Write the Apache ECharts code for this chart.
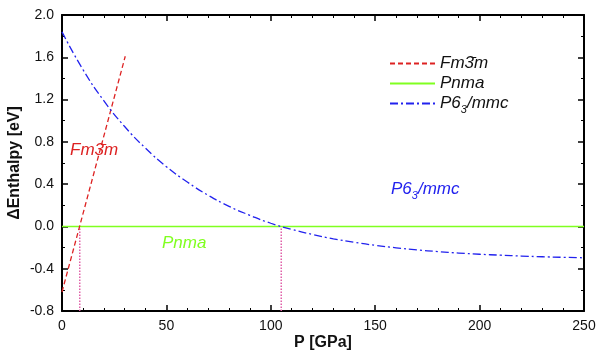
<!DOCTYPE html>
<html>
<head>
<meta charset="utf-8">
<script src="https://cdn.jsdelivr.net/npm/echarts@6/dist/echarts.min.js"></script>
<style>
  html, body { margin: 0; padding: 0; background: #fff; }
  #chart { width: 597px; height: 351px; }
</style>
</head>
<body>
<div id="chart"></div>
<script>
// data
const fm3mLine = [[0, -0.62], [30.3, 1.61]]
const pnmaLine = [[0, 0], [250, 0]]
const pressures = [0, 10, 20, 30, 40, 50, 60, 70, 80, 90, 100, 110, 120, 130, 140, 150, 160, 170, 180, 190, 200, 210, 220, 230, 240, 250]
const p63Values = [1.84, 1.485, 1.19, 0.945, 0.74, 0.565, 0.42, 0.295, 0.19, 0.105, 0.03, -0.028, -0.076, -0.117, -0.15, -0.179, -0.202, -0.222, -0.238, -0.252, -0.263, -0.272, -0.28, -0.287, -0.292, -0.297]
const transitionP = [8.5, 105]
const yTicks = [-0.8, -0.4, 0.0, 0.4, 0.8, 1.2, 1.6, 2.0]

const font = 'Liberation Sans, Arial, sans-serif'
const red = '#dd2222'
const green = '#80ff20'
const blue = '#2222ee'
const pink = '#e060a8'

const chart = echarts.init(document.getElementById('chart'))

const axisLine = { show: true, onZero: false, lineStyle: { color: '#000', width: 2 } }
const tick = { show: true, inside: true, length: 6, lineStyle: { color: '#000', width: 1.5 } }
const minor = { show: true, splitNumber: 5, length: 3, lineStyle: { color: '#000', width: 1 } }

// dotted drop lines at the transition pressures
const dropLines = transitionP.map(p => ({
  type: 'line',
  data: [[p, -0.8], [p, 0]],
  symbol: 'none',
  silent: true,
  lineStyle: { color: pink, type: 'dotted', width: 1.5 },
  z: 1
}))

const rich = {
  n: { fontFamily: font, fontStyle: 'italic', fontSize: 17 },
  s: { fontFamily: font, fontStyle: 'italic', fontSize: 11, padding: [12, 0, 0, 0] }
}

const option = {
  animation: false,
  textStyle: { fontFamily: font },
  grid: { left: 62, right: 13, top: 15, bottom: 40, outerBoundsMode: 'none', containLabel: false },
  legend: {
    orient: 'vertical',
    left: 384,
    top: 50,
    itemWidth: 45,
    itemHeight: 14,
    itemGap: 3,
    data: ['Fm3̄m', 'Pnma', 'P63/mmc'],
    itemStyle: { opacity: 0 },
    formatter: name => name === 'P63/mmc' ? '{n|P6}{s|3}{n|/mmc}' : '{n|' + name + '}',
    textStyle: { color: '#111', rich: rich }
  },
  xAxis: [
    {
      type: 'value', min: 0, max: 250, interval: 50,
      name: 'P [GPa]', nameLocation: 'middle', nameGap: 24, nameMoveOverlap: false,
      nameTextStyle: { fontSize: 16, fontWeight: 'bold', color: '#111', fontFamily: font },
      axisLine, axisTick: tick, minorTick: minor,
      axisLabel: { fontSize: 14, color: '#111', margin: 8 },
      splitLine: { show: false }
    },
    {
      type: 'value', min: 0, max: 250, interval: 50, position: 'top',
      axisLine, axisTick: tick, minorTick: minor,
      axisLabel: { show: false }, splitLine: { show: false }
    }
  ],
  yAxis: [
    {
      type: 'value', min: -0.8, max: 2.0, interval: 0.4,
      name: 'ΔEnthalpy [eV]', nameLocation: 'middle', nameGap: 39, nameMoveOverlap: false,
      nameTextStyle: { fontSize: 16, fontWeight: 'bold', color: '#111', fontFamily: font },
      axisLine, axisTick: tick, minorTick: { ...minor, splitNumber: 2 },
      axisLabel: {
        fontSize: 14, color: '#111', margin: 8,
        formatter: v => yTicks.some(t => Math.abs(t - v) < 1e-6) ? v.toFixed(1) : ''
      },
      splitLine: { show: false }
    },
    {
      type: 'value', min: -0.8, max: 2.0, interval: 0.4, position: 'right',
      axisLine, axisTick: tick, minorTick: { ...minor, splitNumber: 2 },
      axisLabel: { show: false }, splitLine: { show: false }
    }
  ],
  series: [
    {
      name: 'Fm3̄m', type: 'line', data: fm3mLine, symbol: 'none',
      lineStyle: { color: red, type: [5, 3], width: 1.3 }, itemStyle: { color: red }, z: 3
    },
    {
      name: 'Pnma', type: 'line', data: pnmaLine, symbol: 'none',
      lineStyle: { color: green, width: 1.5 }, itemStyle: { color: green }, z: 2
    },
    {
      name: 'P63/mmc', type: 'line', data: pressures.map((p, i) => [p, p63Values[i]]),
      symbol: 'none', smooth: true,
      lineStyle: { color: blue, type: [8, 3, 2, 3], width: 1.3 }, itemStyle: { color: blue }, z: 3
    },
    ...dropLines
  ],
  graphic: [
    {
      type: 'text', left: 70, top: 142,
      style: { text: 'Fm3̄m', font: 'italic 17px ' + font, fill: red }
    },
    {
      type: 'text', left: 162, top: 235,
      style: { text: 'Pnma', font: 'italic 17px ' + font, fill: green }
    },
    {
      type: 'text', left: 391, top: 181,
      style: {
        text: '{n|P6}{s|3}{n|/mmc}',
        fill: blue,
        rich: {
          n: { fontFamily: font, fontStyle: 'italic', fontSize: 17, fill: blue },
          s: { fontFamily: font, fontStyle: 'italic', fontSize: 11, fill: blue, padding: [12, 0, 0, 0] }
        }
      }
    }
  ]
}

chart.setOption(option)
</script>
</body>
</html>
